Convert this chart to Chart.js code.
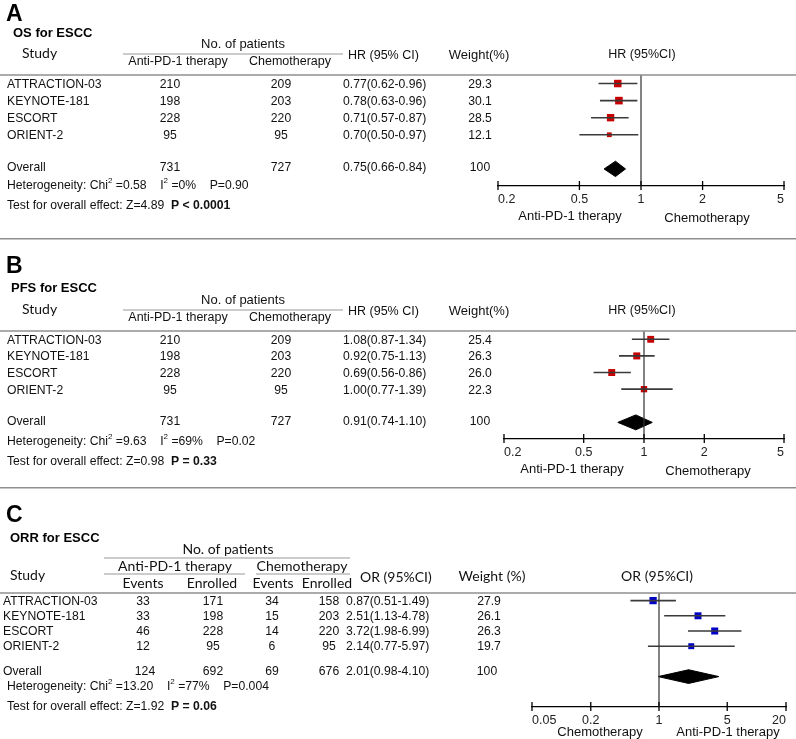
<!DOCTYPE html>
<html>
<head>
<meta charset="utf-8">
<script src="https://cdn.jsdelivr.net/npm/chart.js@4.4.1/dist/chart.umd.min.js"></script>
<style>
  body { margin: 0; background: #fff; width: 796px; height: 739px; overflow: hidden; position: relative; }
  canvas { position: absolute; left: 0; }
</style>
</head>
<body>
<canvas id="panelA" width="796" height="238" style="top:0"></canvas>
<canvas id="panelB" width="796" height="249" style="top:238px"></canvas>
<canvas id="panelC" width="796" height="252" style="top:487px"></canvas>
<script>
// Data
const studies = ['ATTRACTION-03', 'KEYNOTE-181', 'ESCORT', 'ORIENT-2'];
const rows = [1, 2, 3, 4];
const overallRow = 6;

// A - OS
const osAntiN = [210, 198, 228, 95];
const osChemoN = [209, 203, 220, 95];
const osHr = [0.77, 0.78, 0.71, 0.70];
const osLow = [0.62, 0.63, 0.57, 0.50];
const osHigh = [0.96, 0.96, 0.87, 0.97];
const osWeight = [29.3, 30.1, 28.5, 12.1];
const osTotals = [731, 727];
const osPooled = [0.75, 0.66, 0.84];
const osHet = ['0.58', '0%', '0.90'];
const osTest = ['4.89', 'P < 0.0001'];

// B - PFS
const pfsAntiN = [210, 198, 228, 95];
const pfsChemoN = [209, 203, 220, 95];
const pfsHr = [1.08, 0.92, 0.69, 1.00];
const pfsLow = [0.87, 0.75, 0.56, 0.77];
const pfsHigh = [1.34, 1.13, 0.86, 1.39];
const pfsWeight = [25.4, 26.3, 26.0, 22.3];
const pfsTotals = [731, 727];
const pfsPooled = [0.91, 0.74, 1.10];
const pfsHet = ['9.63', '69%', '0.02'];
const pfsTest = ['0.98', 'P = 0.33'];

// C - ORR
const orrAntiEvents = [33, 33, 46, 12];
const orrAntiEnrolled = [171, 198, 228, 95];
const orrChemoEvents = [34, 15, 14, 6];
const orrChemoEnrolled = [158, 203, 220, 95];
const orrOr = [0.87, 2.51, 3.72, 2.14];
const orrLow = [0.51, 1.13, 1.98, 0.77];
const orrHigh = [1.49, 4.78, 6.99, 5.97];
const orrWeight = [27.9, 26.1, 26.3, 19.7];
const orrTotals = [124, 692, 69, 676];
const orrPooled = [2.01, 0.98, 4.10];
const orrHet = ['13.20', '77%', '0.004'];
const orrTest = ['1.92', 'P = 0.06'];

const hrTicks = [0.2, 0.5, 1, 2, 5];
const orTicks = [0.05, 0.2, 1, 5, 20];

const F = "'Liberation Sans', Arial, sans-serif";
const L = "Lato, 'Open Sans', sans-serif";
const RF = '12.2px ' + F;

// small drawing helpers
function txt(ctx, s, x, y, align, font, color) {
    ctx.font = font;
    ctx.textAlign = align || 'left';
    ctx.textBaseline = 'middle';
    ctx.fillStyle = color || '#111';
    ctx.fillText(s, x, y);
}

function hline(ctx, x1, x2, y, color, w) {
    ctx.strokeStyle = color;
    ctx.lineWidth = w;
    ctx.beginPath();
    ctx.moveTo(x1, y);
    ctx.lineTo(x2, y);
    ctx.stroke();
}

function rich(ctx, x, y, parts) {
    let cx = x;
    ctx.textAlign = 'left';
    ctx.textBaseline = 'middle';
    ctx.fillStyle = '#111';
    parts.forEach(([t, s]) => {
        ctx.font = s === 'b' ? 'bold 12.2px ' + F : s === 'sup' ? '8px ' + F : RF;
        ctx.fillText(t, cx, s === 'sup' ? y - 5 : y);
        cx += ctx.measureText(t).width;
    });
}

function ci(est, lo, hi) {
    return est.toFixed(2) + '(' + lo.toFixed(2) + '-' + hi.toFixed(2) + ')';
}

function wfmt(w) {
    return w === 100 ? '100' : w.toFixed(1);
}

function letter(ctx, s, y) {
    ctx.font = 'bold 23px ' + F;
    ctx.textAlign = 'left';
    ctx.textBaseline = 'alphabetic';
    ctx.fillStyle = '#000';
    ctx.fillText(s, 6, y);
}

function hetLines(ctx, y, het, test) {
    rich(ctx, 7, y, [['Heterogeneity: Chi', 'n'], ['2', 'sup'], [' =' + het[0] + '    I', 'n'], ['2', 'sup'], [' =' + het[1] + '    P=' + het[2], 'n']]);
    rich(ctx, 7, y + 20, [['Test for overall effect: Z=' + test[0] + '  ', 'n'], [test[1], 'b']]);
}

// tick marks crossing the axis line
function axisTicks(c) {
    const s = c.scales.x, y = c.chartArea.bottom, ctx = c.ctx;
    ctx.save();
    ctx.strokeStyle = '#000';
    ctx.lineWidth = 1.3;
    s.ticks.forEach(t => {
        const x = s.getPixelForValue(t.value);
        ctx.beginPath();
        ctx.moveTo(x, y - 5);
        ctx.lineTo(x, y + 4);
        ctx.stroke();
    });
    ctx.restore();
}

// table for the HR panels (A and B)
function hrTable(c, t) {
    const ctx = c.ctx, ys = c.scales.y, top = c.chartArea.top, axisY = c.chartArea.bottom;
    const h = t.hy;
    ctx.save();
    if (t.sep) hline(ctx, 0, 796, 0.75, '#8f8f8f', 1.5);
    letter(ctx, t.letter, t.letterY);
    txt(ctx, t.title, t.titleX, t.titleY, 'left', 'bold 13px ' + F, '#000');
    txt(ctx, 'Study', 22, 53 + h, 'left', '14px ' + L);
    txt(ctx, 'No. of patients', 243, 44 + h, 'center', '13px ' + F);
    hline(ctx, 123, 343, 54 + h, '#999', 1);
    txt(ctx, 'Anti-PD-1 therapy', 178, 62 + h, 'center', '12.5px ' + F);
    txt(ctx, 'Chemotherapy', 290, 62 + h, 'center', '12.5px ' + F);
    txt(ctx, 'HR (95% CI)', 348, 56 + h, 'left', '12.5px ' + F);
    txt(ctx, 'Weight(%)', 479, 55 + h, 'center', '13px ' + F);
    txt(ctx, 'HR (95%CI)', 642, 55 + h, 'center', '12.5px ' + F);
    hline(ctx, 0, 796, top, '#8f8f8f', 1.5);

    studies.forEach((s, i) => {
        const y = ys.getPixelForValue(rows[i]) + 1.2;
        txt(ctx, s, 7, y, 'left', RF);
        txt(ctx, String(t.anti[i]), 170, y, 'center', RF);
        txt(ctx, String(t.chemo[i]), 281, y, 'center', RF);
        txt(ctx, ci(t.est[i], t.lo[i], t.hi[i]), 343, y, 'left', RF);
        txt(ctx, wfmt(t.w[i]), 480, y, 'center', RF);
    });
    const oy = ys.getPixelForValue(overallRow) - 1;
    txt(ctx, 'Overall', 7, oy, 'left', RF);
    txt(ctx, String(t.totals[0]), 170, oy, 'center', RF);
    txt(ctx, String(t.totals[1]), 281, oy, 'center', RF);
    txt(ctx, ci(t.pooled[0], t.pooled[1], t.pooled[2]), 343, oy, 'left', RF);
    txt(ctx, '100', 480, oy, 'center', RF);
    hetLines(ctx, top + 110.5, t.het, t.test);

    txt(ctx, 'Anti-PD-1 therapy', t.legX[0], axisY + 30.5, 'center', '13px ' + F);
    txt(ctx, 'Chemotherapy', t.legX[1], axisY + 32, 'center', '13px ' + F);
    ctx.restore();
}

// table for the ORR panel (C)
function orTable(c) {
    const ctx = c.ctx, ys = c.scales.y, top = c.chartArea.top, axisY = c.chartArea.bottom;
    ctx.save();
    hline(ctx, 0, 796, 0.75, '#8f8f8f', 1.5);
    letter(ctx, 'C', 35);
    txt(ctx, 'ORR for ESCC', 10, 51, 'left', 'bold 13px ' + F, '#000');
    const HF = '14px ' + L;
    txt(ctx, 'No. of patients', 228, 62, 'center', HF);
    hline(ctx, 104, 350, 71, '#999', 1);
    txt(ctx, 'Anti-PD-1 therapy', 175, 79, 'center', HF);
    txt(ctx, 'Chemotherapy', 302, 79, 'center', HF);
    hline(ctx, 104, 245, 87, '#999', 1);
    hline(ctx, 256, 350, 87, '#999', 1);
    txt(ctx, 'Study', 10, 88, 'left', HF);
    txt(ctx, 'Events', 143, 96, 'center', HF);
    txt(ctx, 'Enrolled', 212, 96, 'center', HF);
    txt(ctx, 'Events', 273, 96, 'center', HF);
    txt(ctx, 'Enrolled', 327, 96, 'center', HF);
    txt(ctx, 'OR (95%CI)', 360, 90, 'left', HF);
    txt(ctx, 'Weight (%)', 492, 89, 'center', HF);
    txt(ctx, 'OR (95%CI)', 657, 89, 'center', HF);
    hline(ctx, 0, 796, top, '#8f8f8f', 1.5);

    studies.forEach((s, i) => {
        const y = ys.getPixelForValue(rows[i]) + 0.7;
        txt(ctx, s, 3, y, 'left', RF);
        txt(ctx, String(orrAntiEvents[i]), 143, y, 'center', RF);
        txt(ctx, String(orrAntiEnrolled[i]), 213, y, 'center', RF);
        txt(ctx, String(orrChemoEvents[i]), 272, y, 'center', RF);
        txt(ctx, String(orrChemoEnrolled[i]), 329, y, 'center', RF);
        txt(ctx, ci(orrOr[i], orrLow[i], orrHigh[i]), 346, y, 'left', RF);
        txt(ctx, wfmt(orrWeight[i]), 489, y, 'center', RF);
    });
    const oy = ys.getPixelForValue(overallRow - 0.35);
    txt(ctx, 'Overall', 3, oy, 'left', RF);
    txt(ctx, String(orrTotals[0]), 145, oy, 'center', RF);
    txt(ctx, String(orrTotals[1]), 213, oy, 'center', RF);
    txt(ctx, String(orrTotals[2]), 272, oy, 'center', RF);
    txt(ctx, String(orrTotals[3]), 329, oy, 'center', RF);
    txt(ctx, ci(orrPooled[0], orrPooled[1], orrPooled[2]), 346, oy, 'left', RF);
    txt(ctx, '100', 487, oy, 'center', RF);
    hetLines(ctx, top + 94, orrHet, orrTest);

    txt(ctx, 'Chemotherapy', 600, axisY + 25, 'center', '13px ' + F);
    txt(ctx, 'Anti-PD-1 therapy', 728, axisY + 25, 'center', '13px ' + F);
    ctx.restore();
}

// builds one forest plot on the right side of a panel
function forest(id, est, lo, hi, wt, pooled, ticks, yMax, pad, boxColor, drawTable) {
    const boxes = est.map((v, i) => ({ x: v, y: rows[i], w: wt[i] }));
    const whiskers = [];
    est.forEach((v, i) => {
        whiskers.push({ x: lo[i], y: rows[i] }, { x: hi[i], y: rows[i] }, { x: hi[i], y: null });
    });
    const dh = 0.45;
    const diamond = [
        { x: pooled[1], y: overallRow },
        { x: pooled[0], y: overallRow - dh },
        { x: pooled[2], y: overallRow },
        { x: pooled[0], y: overallRow + dh },
        { x: pooled[1], y: overallRow }
    ];

    return new Chart(document.getElementById(id), {
        type: 'line',
        data: {
            datasets: [
                { data: [{ x: 1, y: 0.5 }, { x: 1, y: yMax }], borderColor: '#333', borderWidth: 1.2, pointRadius: 0 },
                { data: whiskers, borderColor: '#3a3a3a', borderWidth: 1.6, pointRadius: 0 },
                { data: diamond, borderColor: '#000', backgroundColor: '#000', borderWidth: 1, pointRadius: 0, fill: 'shape' },
                {
                    data: boxes, showLine: false, pointStyle: 'rect',
                    pointRadius: c => c.raw ? (2.8 + 0.16 * c.raw.w) / Math.SQRT2 : 3,
                    pointBackgroundColor: boxColor, pointBorderWidth: 0
                }
            ]
        },
        options: {
            responsive: false,
            animation: false,
            events: [],
            layout: { padding: pad },
            plugins: { legend: { display: false }, tooltip: { enabled: false } },
            scales: {
                x: {
                    type: 'logarithmic',
                    min: ticks[0],
                    max: ticks[ticks.length - 1],
                    afterBuildTicks: s => { s.ticks = ticks.map(v => ({ value: v })); },
                    afterFit: s => { s.height = 30; },
                    grid: { display: false, drawTicks: false },
                    border: { display: true, color: '#000', width: 1.3 },
                    ticks: {
                        align: 'inner', padding: 6, color: '#222', autoSkip: false, maxRotation: 0,
                        font: { family: "'Liberation Sans Narrow', 'Liberation Sans', sans-serif", size: 12.5 },
                        callback: v => String(v)
                    }
                },
                y: { type: 'linear', display: false, reverse: true, min: 0.5, max: yMax }
            }
        },
        plugins: [{ id: 'table', afterDraw: c => { axisTicks(c); drawTable(c); } }]
    });
}

forest('panelA', osHr, osLow, osHigh, osWeight, osPooled, hrTicks, 7,
    { left: 498, right: 12, top: 75, bottom: 22 }, '#c80000',
    c => hrTable(c, {
        sep: false, letter: 'A', letterY: 21, title: 'OS for ESCC', titleX: 13, titleY: 33, hy: 0,
        anti: osAntiN, chemo: osChemoN, est: osHr, lo: osLow, hi: osHigh, w: osWeight,
        totals: osTotals, pooled: osPooled, het: osHet, test: osTest, legX: [570, 707]
    }));

forest('panelB', pfsHr, pfsLow, pfsHigh, pfsWeight, pfsPooled, hrTicks, 7,
    { left: 504, right: 12, top: 93, bottom: 18 }, '#c80000',
    c => hrTable(c, {
        sep: true, letter: 'B', letterY: 35, title: 'PFS for ESCC', titleX: 11, titleY: 50, hy: 18,
        anti: pfsAntiN, chemo: pfsChemoN, est: pfsHr, lo: pfsLow, hi: pfsHigh, w: pfsWeight,
        totals: pfsTotals, pooled: pfsPooled, het: pfsHet, test: pfsTest, legX: [572, 708]
    }));

forest('panelC', orrOr, orrLow, orrHigh, orrWeight, orrPooled, orTicks, 8,
    { left: 532, right: 10, top: 106, bottom: 2 }, '#0000c8', orTable);
</script>
</body>
</html>
